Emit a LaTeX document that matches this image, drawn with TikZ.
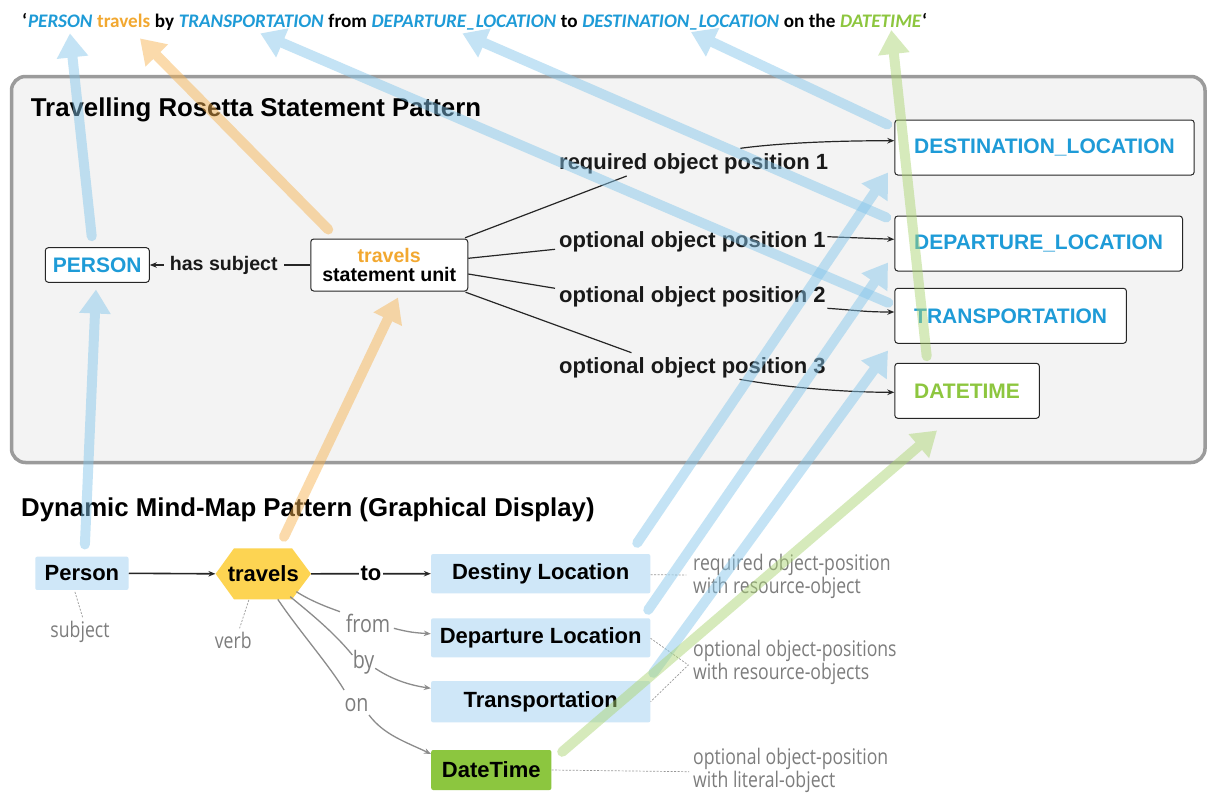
\documentclass[tikz,border=0pt]{standalone}
\usepackage{fontspec}
\setmainfont{Liberation Sans}
\newfontfamily\carlito{Carlito}
\newfontfamily\osans[FakeStretch=0.82]{Open Sans}
\usetikzlibrary{arrows.meta,calc}
\definecolor{tblue}{RGB}{30,155,215}
\definecolor{borange}{RGB}{242,168,48}
\definecolor{bgreen}{RGB}{141,198,63}
\definecolor{panelfill}{RGB}{243,243,243}
\definecolor{panelline}{RGB}{155,155,155}
\definecolor{lblue}{RGB}{207,231,248}
\definecolor{hexy}{RGB}{253,212,82}
\definecolor{dtgreen}{RGB}{140,198,63}
\definecolor{gtext}{RGB}{125,125,125}
\definecolor{ablue}{RGB}{132,198,235}
\definecolor{aorange}{RGB}{247,179,81}
\definecolor{agreen}{RGB}{171,213,113}
\newcommand\myfs[2]{\fontsize{#1}{#2}\selectfont}
\newcommand\fatarrow[3]{\begin{scope}[transparency group,opacity=0.48]\draw[fat,#1] #2 -- #3;\end{scope}}
\begin{document}
\begin{tikzpicture}[x=1pt,y=-1pt,
  ubox/.style={draw=black!85, line width=1, rounded corners=3, fill=white, inner sep=0},
  rbox/.style={draw=black!85, line width=1, rounded corners=3, fill=white, anchor=west, minimum height=55, inner xsep=19.4, inner ysep=0, font=\bfseries\myfs{21}{24}, text=tblue},
  lab/.style={anchor=west, inner sep=0, font=\bfseries\myfs{22}{25}, text=black!90},
  blk/.style={draw=black!85, line width=1.2, -{Stealth[length=7pt,width=5.5pt]}},
  blkline/.style={draw=black!85, line width=1.2},
  bbox/.style={fill=lblue, rounded corners=2, inner sep=0, font=\bfseries\myfs{22}{25}},
  gry/.style={draw=gray!90, line width=1.3},
  gryarr/.style={gry, -{Stealth[length=7pt,width=5.5pt]}},
  dsh/.style={draw=gray!80, line width=0.7, dash pattern=on 2pt off 1.5pt},
  ann/.style={font=\osans\myfs{21.5}{23}, text=gtext, align=left, inner sep=0},
  elab/.style={font=\osans\myfs{24}{26}, text=gtext, inner sep=0},
  tw/.style={anchor=base west, inner sep=0, font=\carlito\bfseries\myfs{19.15}{22}},
  fat/.style={line width=10pt, line cap=round, -{Triangle[length=24pt,width=30pt]}},
]
\useasboundingbox (0,0) rectangle (1209,792);
\fill[white] (0,0) rectangle (1209,792);

% ---------- title sentence ----------
\def\tsp{4.3}
\node[tw] (q1) at (22,27.4) {‘};
\node[tw, text=tblue] (tP) at ($(q1.base east)+(0.5,0)$) {\itshape PERSON};
\node[tw, text=borange] (tT) at ($(tP.base east)+(\tsp,0)$) {travels};
\node[tw] (tby) at ($(tT.base east)+(\tsp,0)$) {by};
\node[tw, text=tblue] (tTR) at ($(tby.base east)+(\tsp,0)$) {\itshape TRANSPORTATION};
\node[tw] (tfrom) at ($(tTR.base east)+(\tsp,0)$) {from};
\node[tw, text=tblue] (tDEP) at ($(tfrom.base east)+(\tsp,0)$) {\itshape DEPARTURE\_LOCATION};
\node[tw] (tto) at ($(tDEP.base east)+(\tsp,0)$) {to};
\node[tw, text=tblue] (tDEST) at ($(tto.base east)+(\tsp,0)$) {\itshape DESTINATION\_LOCATION};
\node[tw] (ton) at ($(tDEST.base east)+(\tsp,0)$) {on the};
\node[tw, text=bgreen] (tDT) at ($(ton.base east)+(\tsp,0)$) {\itshape DATETIME};
\node[tw] (q2) at ($(tDT.base east)+(0.5,0)$) {‘};

% ---------- upper panel ----------
\draw[panelline, line width=3.5, fill=panelfill, rounded corners=14] (11.5,76.5) rectangle (1205,462.5);
\node[anchor=base west, inner sep=0, font=\bfseries\myfs{25.8}{30}] (h1) at (30.7,116.5) {Travelling Rosetta Statement Pattern};

\node[ubox, minimum width=104, minimum height=34.6, font=\bfseries\myfs{21}{24}, text=tblue] (P) at (97.3,265) {PERSON};
\node[ubox, minimum width=157, minimum height=52, align=center, font=\bfseries\myfs{19.6}{19.7}] (su) at (389.25,265) {\textcolor{borange}{travels}\\statement unit};

\node[rbox] (DEST) at (894.3,147.5) {DESTINATION\_LOCATION};
\node[rbox] (DEP) at (894.3,243.5) {DEPARTURE\_LOCATION};
\node[rbox] (TR) at (894.3,315.8) {TRANSPORTATION};
\node[rbox, text=bgreen] (DT) at (894.3,390.8) {DATETIME};

\node[lab] (r1) at (559,164.3) {required object position 1};
\node[lab] (o1) at (559,241.7) {optional object position 1};
\node[lab] (o2) at (559,296.7) {optional object position 2};
\node[lab] (o3) at (559,368.3) {optional object position 3};

\draw[blk] (su.west) -- node[pos=0.539, fill=panelfill, inner xsep=6, inner ysep=2, font=\bfseries\myfs{19.6}{22}, text=black!90] (hs) {has subject} (P.east);

\draw[blkline] ($(su.north east)+(-3.2,-0.7)$) -- ($(r1.west)+(67.7,11.7)$);
\draw[blk] ($(r1.west)+(181.4,-16)$) .. controls +(45,-6) and +(-50,0) .. ($(DEST.west)+(0,-6.8)$);
\draw[blkline] ($(su.east)+(0,-6.7)$) -- ($(o1.west)+(-4,7.6)$);
\draw[blk] ($(o1.east)+(1.5,-5)$) -- ($(DEP.west)+(0,-4.2)$);
\draw[blkline] ($(su.east)+(0,9)$) -- ($(o2.west)+(-4,-8.4)$);
\draw[blk] ($(o2.east)+(1.5,11.6)$) .. controls +(30,2) and +(-30,0) .. ($(TR.west)+(0,-3.8)$);
\draw[blkline] ($(su.south east)+(-2.7,0.7)$) -- ($(o3.west)+(72.5,-15.6)$);
\draw[blk] ($(o3.west)+(180.5,11)$) .. controls +(45,8) and +(-50,0) .. ($(DT.west)+(0,1.5)$);

% ---------- lower part ----------
\node[anchor=base west, inner sep=0, font=\bfseries\myfs{25.8}{30}] (h2) at (21,516) {Dynamic Mind-Map Pattern (Graphical Display)};

\fill[hexy] (215.6,573.8) -- (234,548.3) -- (292,548.3) -- (311,573.8) -- (292,599.3) -- (234,599.3) -- cycle;
\node[inner sep=0, minimum width=95.4, minimum height=51, font=\bfseries\myfs{22}{25}] (tv) at (263.3,573.8) {travels};

\node[bbox, minimum width=93.3, minimum height=33.3] (bp) at (81.9,573.3) {Person};
\node[bbox, minimum width=219.3, minimum height=39.3] (dl) at (540.7,573.7) {Destiny Location};
\node[bbox, minimum width=219.3, minimum height=39] (dpl) at (540.7,637.8) {Departure Location};
\node[bbox, minimum width=219.3, minimum height=41.3] (tr) at (540.7,701.7) {Transportation};
\node[bbox, fill=dtgreen, minimum width=120.2, minimum height=40] (dt) at (491.3,770) {DateTime};

\draw[blk, line width=1.6] (bp.east) -- (tv.west);
\draw[blk, line width=1.6] (tv.east) -- node[fill=white, inner xsep=1.5, inner ysep=0, font=\bfseries\myfs{22}{25}] (lto) {to} (dl.west);

\node[elab] (lf) at (368,623.3) {from};
\node[elab] (lb) at (363.6,662.7) {by};
\node[elab] (lo) at (356.5,705) {on};

\draw[gry] ($(tv.center)+(33.1,17.9)$) .. controls +(14,9) and +(-14,-5) .. ($(lf.center)+(-28,-11.6)$);
\draw[gryarr] ($(lf.center)+(25.9,5)$) .. controls +(15,4) and +(-15,-1) .. ($(dpl.west)+(0,-4)$);
\draw[gry] ($(tv.center)+(26.9,22.9)$) .. controls +(22,18) and +(-18,-22) .. ($(lb.center)+(-11.2,-7.7)$);
\draw[gryarr] ($(lb.center)+(11.6,5.6)$) .. controls +(18,12) and +(-20,-3) .. ($(tr.west)+(0,-13.4)$);
\draw[gry] ($(tv.center)+(14.5,25.5)$) .. controls +(20,30) and +(-15,-25) .. ($(lo.center)+(-12.4,-15)$);
\draw[gryarr] ($(lo.center)+(12.5,10)$) .. controls +(15,20) and +(-25,-12) .. ($(dt.west)+(0,-16)$);

\node[ann] (subj) at (80,631.7) {subject};
\node[ann] (verb) at (233.2,640) {verb};
\draw[dsh] ($(bp.south)+(-7,1.7)$) -- ($(subj.center)+(2.9,-13.4)$);
\draw[dsh] ($(tv.center)+(-14.5,26.2)$) -- ($(verb.center)+(6.4,-11.7)$);

\node[ann, anchor=west] (a1) at (693,576.6) {required object-position\\with resource-object};
\node[ann, anchor=west] (a2) at (693,662.5) {optional object-positions\\with resource-objects};
\node[ann, anchor=west] (a3) at (693,770.5) {optional object-position\\with literal-object};
\draw[dsh] ($(dl.east)+(0,1)$) -- ($(a1.west)+(-6.6,-1.6)$);
\draw[dsh] ($(dpl.east)+(0,0.5)$) -- ($(a2.west)+(-4.7,2.5)$) -- (tr.east);
\draw[dsh] (dt.east) -- ($(a3.west)+(-4,1.2)$);

% ---------- thick mapping arrows ----------
\fatarrow{ablue}{($(P.north)+(-5.6,-11)$)}{($(tP.base)+(9.7,6)$)}
\fatarrow{aorange}{($(su.north)+(-61,-9)$)}{($(tT.base)+(16.3,11)$)}
\fatarrow{ablue}{($(TR.north west)+(-6,15)$)}{($(tTR.base)+(9,6)$)}
\fatarrow{ablue}{($(DEP.north west)+(-8,2)$)}{($(tDEP.base)+(-1.5,6)$)}
\fatarrow{ablue}{($(DEST.north west)+(-7,5)$)}{($(tDEST.base)+(10.2,4.6)$)}
\fatarrow{agreen}{($(DT.north west)+(32.4,-6.6)$)}{($(tDT.base)+(10.6,2.6)$)}
\fatarrow{ablue}{($(bp.north)+(3,-12)$)}{($(P.south)+(-1.3,6.7)$)}
\fatarrow{aorange}{($(tv.north)+(20.7,-11.3)$)}{($(su.south)+(8.75,6)$)}
\fatarrow{ablue}{($(dl.north east)+(-13.3,-11)$)}{($(DEST.south west)+(-6.3,-3)$)}
\fatarrow{ablue}{($(dpl.north east)+(-2.3,-8.3)$)}{($(DEP.south west)+(-6.3,-9)$)}
\fatarrow{ablue}{($(tr.north east)+(2.7,-8)$)}{($(TR.south west)+(-6.3,6.7)$)}
\fatarrow{agreen}{($(dt.north east)+(10.6,2)$)}{($(DT.south west)+(42.7,11.7)$)}
\end{tikzpicture}
\end{document}
